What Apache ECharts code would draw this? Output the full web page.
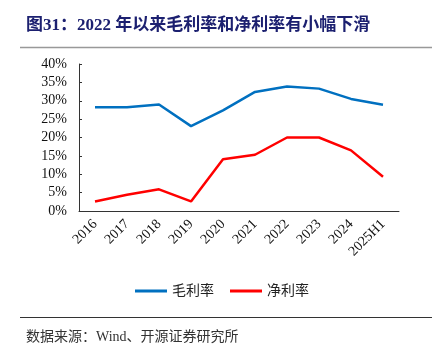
<!DOCTYPE html>
<html><head><meta charset="utf-8">
<script src="https://cdn.jsdelivr.net/npm/echarts@6/dist/echarts.min.js"></script>
<style>html,body{margin:0;padding:0;background:#fff}#c{width:444px;height:349px}</style>
</head><body><div id="c"></div>
<script>
const categories = ['2016','2017','2018','2019','2020','2021','2022','2023','2024','2025H1'];
const grossMargin = [28.2, 28.2, 29.0, 23.1, 27.4, 32.4, 33.9, 33.3, 30.5, 28.9];
const netMargin = [2.6, 4.4, 5.9, 2.6, 14.1, 15.3, 20.0, 20.0, 16.5, 9.3];
const seriesNames = ['毛利率', '净利率'];
const titleText = '图31：2022 年以来毛利率和净利率有小幅下滑';
const sourceText = '数据来源：Wind、开源证券研究所';

const serif = '"Liberation Serif", "Times New Roman", "Noto Sans CJK SC", serif';
const chart = echarts.init(document.getElementById('c'), null, {renderer: 'canvas'});
chart.setOption({
  animation: false,
  backgroundColor: '#fff',
  title: [{
    text: titleText, left: 21, top: 12,
    textStyle: {fontFamily: serif, fontSize: 17, fontWeight: 'bold', color: '#1C2070'}
  }, {
    text: sourceText, left: 21, top: 325,
    textStyle: {fontFamily: serif, fontSize: 14, fontWeight: 'normal', color: '#333'}
  }],
  graphic: [
    {type: 'line', shape: {x1: 20, y1: 47.5, x2: 432, y2: 47.5}, style: {stroke: '#999', lineWidth: 1.5}},
    {type: 'line', shape: {x1: 20, y1: 317.5, x2: 432, y2: 317.5}, style: {stroke: '#333', lineWidth: 1}}
  ],
  legend: {
    data: seriesNames, left: 'center', top: 279, itemWidth: 32, itemHeight: 3, itemGap: 16,
    icon: 'rect',
    textStyle: {fontFamily: serif, fontSize: 14, color: '#222'}
  },
  grid: {left: 79, right: 45, top: 64, bottom: 138},
  xAxis: {
    type: 'category', data: categories, boundaryGap: true,
    axisLine: {lineStyle: {color: '#333', width: 1}},
    axisTick: {inside: true, length: 4, lineStyle: {color: '#333'}},
    axisLabel: {rotate: 45, fontFamily: serif, fontSize: 14, color: '#111', margin: 11}
  },
  yAxis: {
    type: 'value', min: 0, max: 40, interval: 5,
    axisLine: {show: true, lineStyle: {color: '#333', width: 1}},
    axisTick: {show: true, inside: true, length: 3, lineStyle: {color: '#333'}},
    splitLine: {show: false},
    axisLabel: {formatter: '{value}%', fontFamily: serif, fontSize: 14, color: '#111', margin: 12}
  },
  series: [
    {name: seriesNames[0], type: 'line', data: grossMargin, symbol: 'none',
     lineStyle: {color: '#0070C0', width: 2.5}, itemStyle: {color: '#0070C0'}},
    {name: seriesNames[1], type: 'line', data: netMargin, symbol: 'none',
     lineStyle: {color: '#FF0000', width: 2.5}, itemStyle: {color: '#FF0000'}}
  ]
});
</script></body></html>
